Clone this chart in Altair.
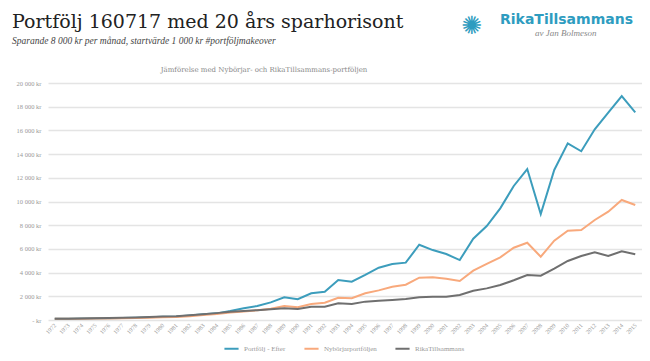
import altair as alt
import pandas as pd

years = list(range(1972, 2016))
series_names = ["Portfölj - Efter", "Nybörjarportföljen", "RikaTillsammans"]
efter = [100, 110, 120, 140, 150, 170, 200, 230, 270, 300, 380, 480,
         560, 760, 990, 1180, 1490, 1910, 1750, 2250, 2390, 3380, 3230, 3800,
         4410, 4720, 4840, 6350, 5900, 5570, 5060, 6860, 7930, 9420, 11310, 12740,
         8950, 12660, 14910, 14240, 16090, 17500, 18900, 17530]
nyborjar = [100, 100, 110, 120, 130, 150, 170, 190, 230, 260, 320, 420,
            500, 640, 720, 820, 950, 1180, 1070, 1350, 1460, 1880, 1840, 2250,
            2500, 2810, 2980, 3570, 3600, 3490, 3290, 4160, 4730, 5290, 6100, 6520,
            5340, 6690, 7540, 7600, 8440, 9140, 10130, 9700]
rika = [100, 110, 130, 150, 170, 190, 220, 260, 300, 320, 400, 480,
        580, 700, 760, 830, 900, 990, 930, 1120, 1120, 1410, 1350, 1550,
        1630, 1690, 1770, 1910, 1970, 1970, 2110, 2470, 2670, 2950, 3350, 3800,
        3740, 4330, 4980, 5400, 5710, 5400, 5790, 5540]
colors = ["#3C9DBC", "#F8A97C", "#6F6F6F"]

rows = []
for name, vals in zip(series_names, [efter, nyborjar, rika]):
    for y, v in zip(years, vals):
        rows.append({"År": str(y), "Serie": name, "Värde": v})
df = pd.DataFrame(rows)

one = pd.DataFrame([{"a": 1}])

lines = alt.Chart(df).mark_line(strokeWidth=2).encode(
    x=alt.X("År:O", scale=alt.Scale(type="point", padding=0.5),
            axis=alt.Axis(title=None, labelAngle=-45, labelFontSize=6, labelColor="#999999",
                          labelFont="Liberation Serif", domain=False, ticks=False, labelPadding=4,
                          labelAlign="right", labelBaseline="middle")),
    y=alt.Y("Värde:Q", scale=alt.Scale(domain=[0, 20000], nice=False),
            axis=alt.Axis(title=None, values=list(range(0, 20001, 2000)), domain=False, ticks=False,
                          labelFontSize=6.5, labelColor="#999999", labelFont="Liberation Serif",
                          labelPadding=7, gridColor="#e4e4e4", gridWidth=1.5,
                          labelExpr="datum.value == 0 ? '-    kr' : replace(format(datum.value, ','), ',', ' ') + ' kr'")),
    color=alt.Color("Serie:N", scale=alt.Scale(domain=series_names, range=colors),
                    legend=alt.Legend(title=None, orient="none", direction="horizontal",
                                      legendX=175, legendY=257, symbolType="stroke",
                                      symbolSize=200, symbolStrokeWidth=2, labelFontSize=7,
                                      labelColor="#999999", labelFont="Liberation Serif",
                                      columnPadding=14)),
)

def txt(text, x, y, size, color, font="DejaVu Serif", style="normal", weight="normal",
        align="left", baseline="alphabetic"):
    return alt.Chart(one).mark_text(text=text, fontSize=size, color=color, font=font,
                                    fontStyle=style, fontWeight=weight, align=align,
                                    baseline=baseline).encode(
        x=alt.value(x), y=alt.value(y))

title = txt("Portfölj 160717 med 20 års sparhorisont", 12 - 48, 28 - 83, 19, "#222222")
subtitle = txt("Sparande 8 000 kr per månad, startvärde 1 000 kr #portföljmakeover", 12 - 48, 44 - 83,
               9.5, "#444444", font="Liberation Serif", style="italic")
inner = txt("Jämförelse med Nybörjar- och RikaTillsammans-portföljen", 264 - 48, 72 - 83, 7,
            "#888888", align="center")
logo1 = txt("RikaTillsammans", 500 - 48, 24 - 83, 14, "#2E9CC0", font="DejaVu Sans", weight="bold")
logo2 = txt("av Jan Bolmeson", 535 - 48, 36 - 83, 9, "#888888", font="Liberation Serif", style="italic")
icon = txt("✺", 472 - 48, 26 - 83, 25, "#2E9CC0", font="DejaVu Sans", align="center",
           baseline="middle")

chart = alt.layer(lines, title, subtitle, inner, logo1, logo2, icon).properties(
    width=594, height=237,
    autosize=alt.AutoSizeParams(type="none"),
    padding={"left": 40, "top": 75, "right": 0, "bottom": 33},
).configure_view(stroke=None)

chart.save("out.html", embed_options={"renderer": "svg", "actions": False})
